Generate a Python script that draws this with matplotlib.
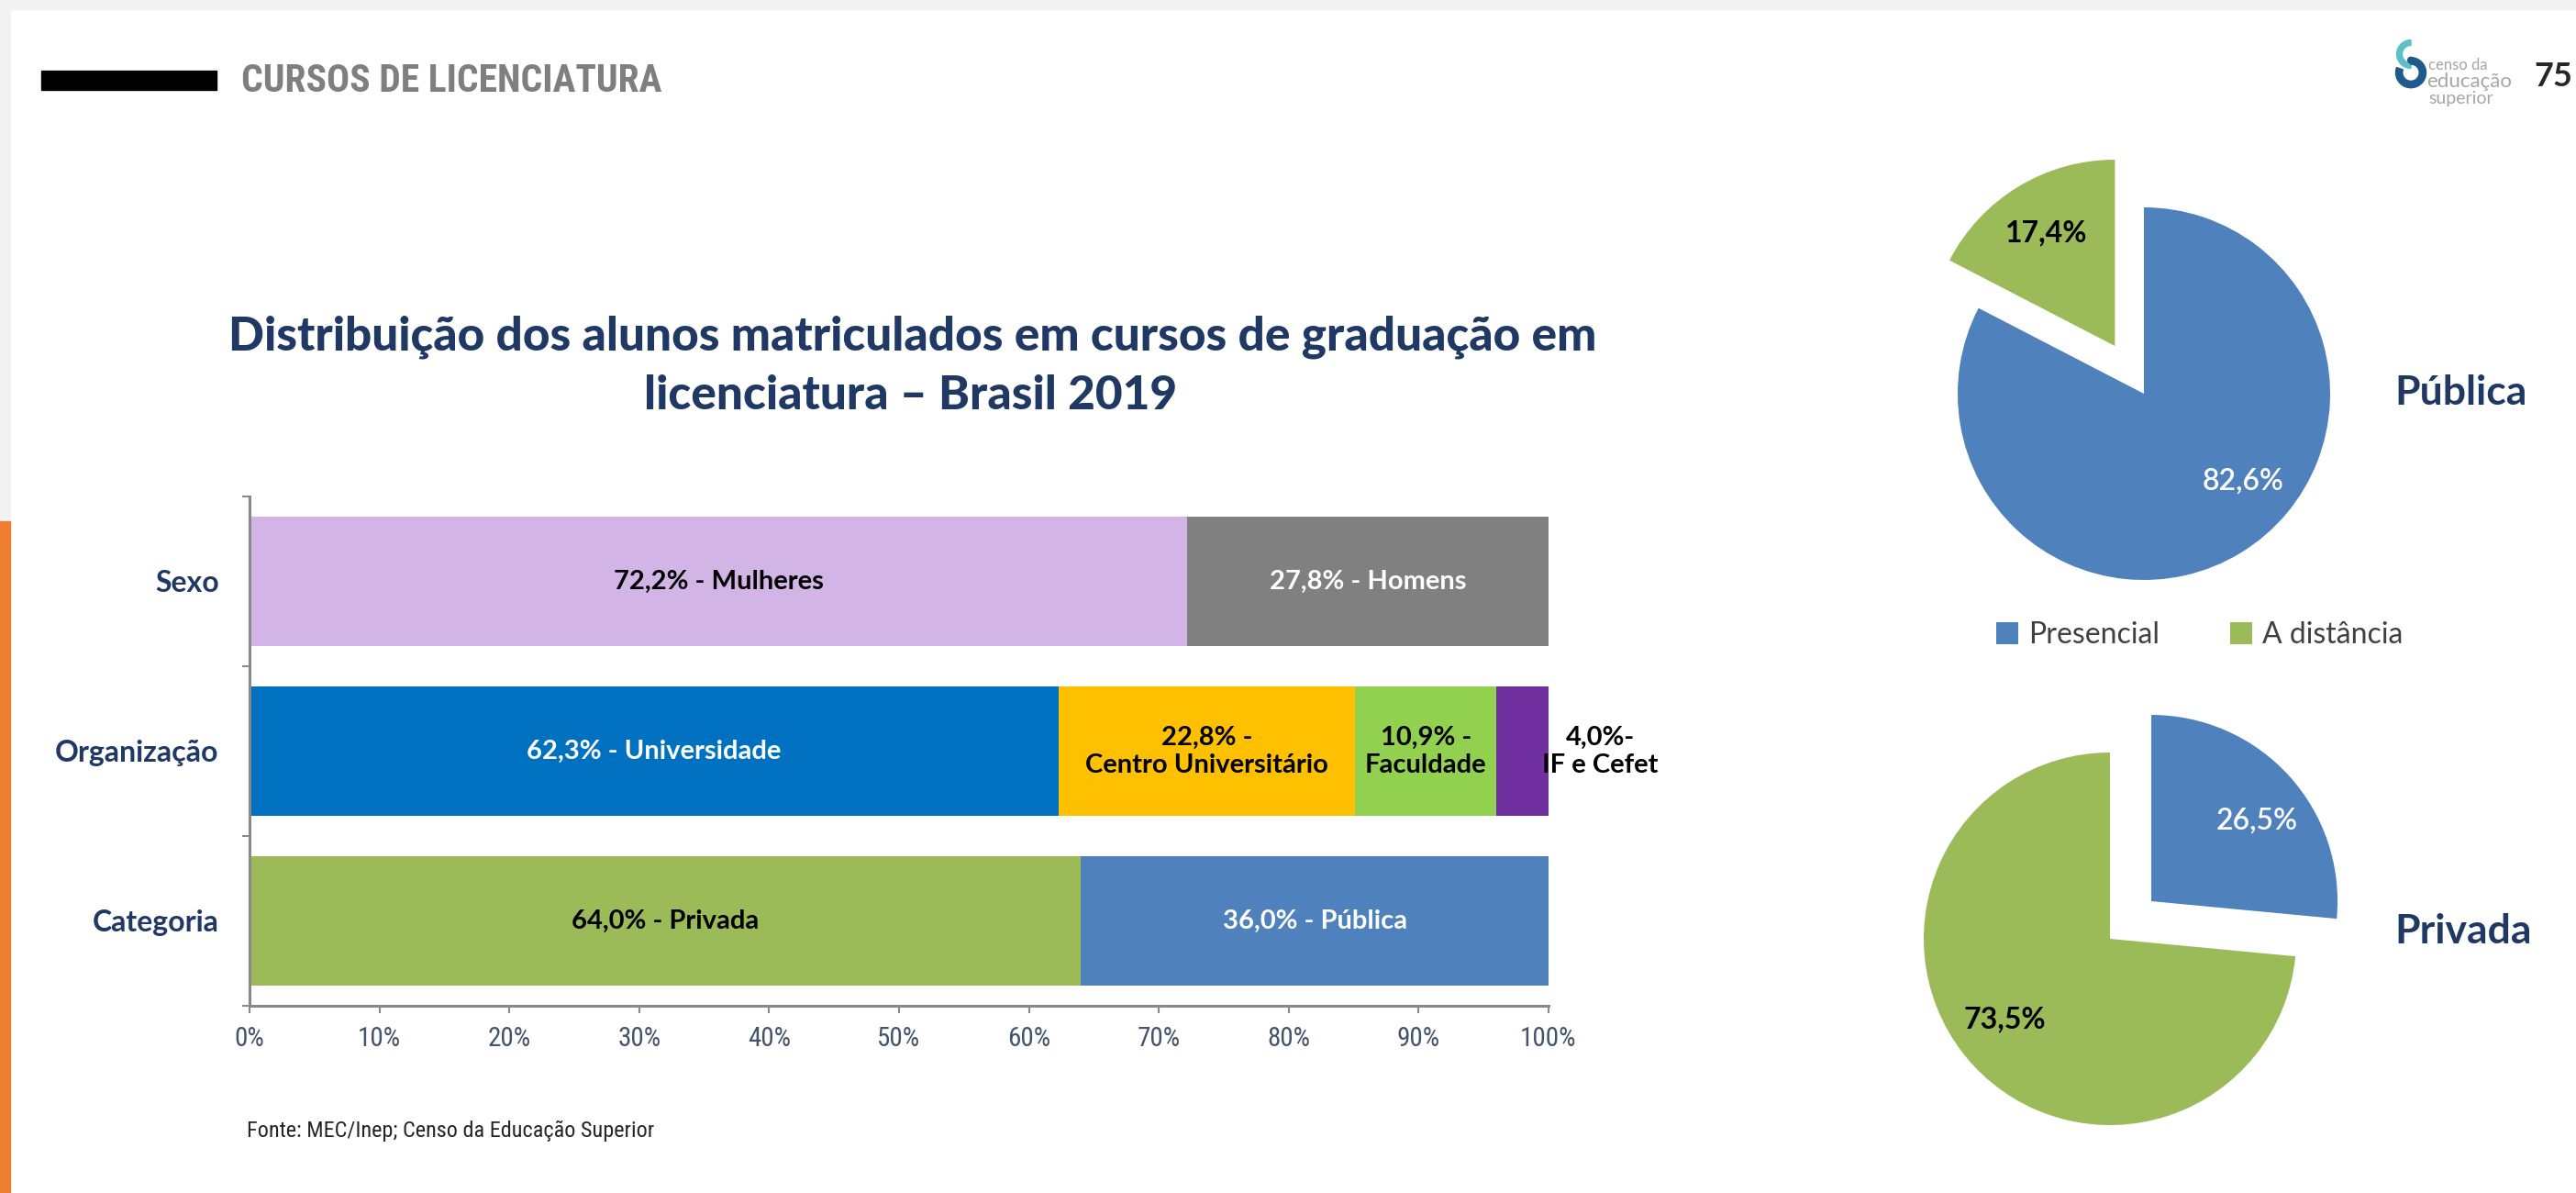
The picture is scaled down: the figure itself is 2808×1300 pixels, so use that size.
"Distribuicao dos alunos de licenciatura - Brasil 2019 (barra empilhada + duas pizzas)"
import numpy as np
import matplotlib
matplotlib.use('Agg')
import matplotlib.pyplot as plt
from matplotlib import font_manager as fm
from matplotlib.patches import Rectangle, Wedge, Circle

# --- data -------------------------------------------------------------
bar_categories = ['Categoria', 'Organização', 'Sexo']   # bottom -> top

sexo_names = ['Mulheres', 'Homens']
sexo_values = [72.2, 27.8]

org_names = ['Universidade', 'Centro Universitário', 'Faculdade', 'IF e Cefet']
org_values = [62.3, 22.8, 10.9, 4.0]

cat_names = ['Privada', 'Pública']
cat_values = [64.0, 36.0]

pie_names = ['Presencial', 'A distância']
publica_pie = [82.6, 17.4]
privada_pie = [26.5, 73.5]

x_ticks = list(range(0, 101, 10))

# --- fonts ------------------------------------------------------------
font_names = {f.name for f in fm.fontManager.ttflist}


def first_font(cands):
    for c in cands:
        if c in font_names:
            return c
    return 'DejaVu Sans'


NARROW = first_font(['Liberation Sans Narrow', 'Roboto Condensed', 'Noto Sans Condensed',
                     'Open Sans Condensed', 'Roboto'])
lato_black = any(f.name == 'Lato' and str(f.weight) in ('900', 'black')
                 for f in fm.fontManager.ttflist)
TITLE_SIZE = 37 if lato_black else 40

# --- styles -----------------------------------------------------------
W, H = 2808, 1300
NAVY = '#1F3864'
BAR_FONT = 'Lato'

sexo_colors = ['#D2B4E6', '#808080']
org_colors = ['#0070C0', '#FFC000', '#92D050', '#7030A0']
cat_colors = ['#9BBB59', '#4F81BD']
pie_colors = ['#4F81BD', '#9BBB59']


def fx(px):
    return px / W


def fy(py):
    return 1 - py / H


def pct(v):
    return ('%.1f' % v).replace('.', ',') + '%'


fig = plt.figure(figsize=(W / 100, H / 100), dpi=100, facecolor='white')

# page frame: grey strips and orange side bar
fig.patches.append(Rectangle((0, fy(10)), 1, 10 / H, transform=fig.transFigure,
                             color='#F2F2F2', zorder=0))
fig.patches.append(Rectangle((0, fy(568)), 11 / W, 568 / H, transform=fig.transFigure,
                             color='#F2F2F2', zorder=0))
fig.patches.append(Rectangle((0, 0), 11 / W, fy(568), transform=fig.transFigure,
                             color='#ED7D31', zorder=0))

# header
fig.patches.append(Rectangle((fx(45), fy(98)), 191 / W, 21 / H, transform=fig.transFigure,
                             color='black'))
fig.text(fx(263), fy(89), 'CURSOS DE LICENCIATURA', family=NARROW, weight='bold',
         fontsize=30, color='#7F7F7F', va='center', ha='left')

# logo + page number
lax = fig.add_axes([fx(2606), fy(100), 44 / W, 60 / H])
lax.set_xlim(-0.6, 0.6)
lax.set_ylim(-0.8, 0.8)
lax.set_aspect('equal')
lax.axis('off')
lax.add_patch(Wedge((0, 0.3), 0.42, 90, 270, width=0.16, color='#5BC0C8'))
lax.add_patch(Wedge((0, -0.25), 0.45, -200, 90, width=0.2, color='#1E5A8C'))
lax.add_patch(Circle((0.0, 0.12), 0.09, color='#1E5A8C'))
fig.text(fx(2647), fy(71), 'censo da', family='Lato', fontsize=12, color='#A6A6A6',
         va='center', ha='left')
fig.text(fx(2645), fy(89), 'educação', family='Lato', fontsize=16, color='#A6A6A6',
         va='center', ha='left')
fig.text(fx(2647), fy(107), 'superior', family='Lato', fontsize=14, color='#A6A6A6',
         va='center', ha='left')
fig.text(fx(2762), fy(84), '75', family='Lato', weight='bold', fontsize=26,
         color='#262626', va='center', ha='left')

# title
title_weight = 'black' if lato_black else 'bold'
fig.text(fx(995), fy(367), 'Distribuição dos alunos matriculados em cursos de graduação em',
         family='Lato', weight=title_weight, fontsize=TITLE_SIZE, color=NAVY,
         ha='center', va='center')
fig.text(fx(993), fy(432), 'licenciatura – Brasil 2019',
         family='Lato', weight=title_weight, fontsize=TITLE_SIZE, color=NAVY,
         ha='center', va='center')

# --- stacked bar chart ------------------------------------------------
ax = fig.add_axes([fx(272), fy(1096), (1688 - 272) / W, (1096 - 541) / H])
bar_h = 0.767

rows = [
    (0, cat_values, cat_colors, cat_names, ['black', 'white']),
    (1, org_values, org_colors, org_names, ['white', 'black', 'black', 'black']),
    (2, sexo_values, sexo_colors, sexo_names, ['black', 'white']),
]
for ypos, vals, cols, names, tcols in rows:
    left = 0
    for i, v in enumerate(vals):
        ax.barh(ypos, v, left=left, height=bar_h, color=cols[i], edgecolor='none')
        if ypos == 1 and i > 0:
            txt = pct(v) + (' -' if i < 3 else '-') + '\n' + names[i]
        else:
            txt = pct(v) + ' - ' + names[i]
        xc = left + v / 2
        if ypos == 1 and i == 3:
            xc = left + v + 4.0
        ax.text(xc, ypos, txt, ha='center', va='center', color=tcols[i],
                family=BAR_FONT, weight='bold', fontsize=21, linespacing=1.2)
        left += v

ax.set_xlim(0, 100)
ax.set_ylim(-0.5, 2.5)
ax.set_xticks(x_ticks)
ax.set_xticklabels([str(t) + '%' for t in x_ticks], family=NARROW, fontsize=21,
                   color='#44546A')
ax.set_yticks(range(len(bar_categories)))
ax.set_yticklabels(bar_categories, family=BAR_FONT, weight='bold', fontsize=23, color=NAVY)
ax.set_yticks([-0.5, 0.5, 1.5, 2.5], minor=True)
ax.tick_params(axis='y', which='major', length=0, pad=24)
ax.tick_params(axis='y', which='minor', length=6, width=1.5, color='#898989')
ax.tick_params(axis='x', length=6, width=1.5, color='#898989', pad=10)
for s in ['top', 'right']:
    ax.spines[s].set_visible(False)
for s in ['left', 'bottom']:
    ax.spines[s].set_color('#898989')
    ax.spines[s].set_linewidth(2.2)

fig.text(fx(269), fy(1232), 'Fonte: MEC/Inep; Censo da Educação Superior', family=NARROW,
         fontsize=17.5, color='#262626', ha='left', va='center')

# --- pies -------------------------------------------------------------
R_PX = 203
HALF = 300


def draw_pie(cx, cy, values, explode, label_colors, label_weights, angle_shift, title, title_y):
    pax = fig.add_axes([fx(cx - HALF), fy(cy + HALF), 2 * HALF / W, 2 * HALF / H])
    lim = HALF / R_PX
    wedges, _ = pax.pie(values, colors=pie_colors, explode=explode, startangle=90,
                        counterclock=False, radius=1,
                        wedgeprops=dict(linewidth=0))
    pax.set_xlim(-lim, lim)
    pax.set_ylim(-lim, lim)
    pax.axis('off')
    for w, v, c, wt, sh in zip(wedges, values, label_colors, label_weights, angle_shift):
        mid = np.deg2rad((w.theta1 + w.theta2) / 2 + sh)
        x0, y0 = w.center
        pax.text(x0 + 0.71 * np.cos(mid), y0 + 0.71 * np.sin(mid), pct(v),
                 ha='center', va='center', color=c, weight=wt, family=BAR_FONT, fontsize=23)
    fig.text(fx(2610), fy(title_y), title, family=BAR_FONT, weight='bold', fontsize=32,
             color=NAVY, ha='left', va='center')
    return wedges


wedges = draw_pie(2337, 429, publica_pie, [0, 0.3], ['white', 'black'],
                  ['semibold', 'bold'], [17, 0], 'Pública', 428)
draw_pie(2300, 1023, privada_pie, [0.3, 0], ['white', 'black'],
         ['semibold', 'bold'], [-5, -5], 'Privada', 1015)

leg = fig.legend(wedges, pie_names, loc='center', bbox_to_anchor=(fx(2398), fy(692)),
                 ncol=2, frameon=False, prop={'family': BAR_FONT, 'size': 23},
                 handlelength=0.75, handleheight=0.75, handletextpad=0.35,
                 columnspacing=2.4)
for t in leg.get_texts():
    t.set_color('#404040')

fig.savefig('out.png', dpi=100, facecolor='white')
